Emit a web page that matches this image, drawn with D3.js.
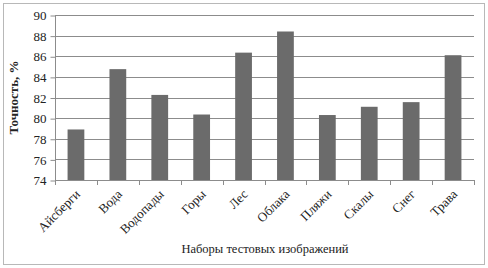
<!DOCTYPE html>
<html>
<head>
<meta charset="utf-8">
<script src="https://cdn.jsdelivr.net/npm/d3@7"></script>
<style>
  body { margin: 0; background: #fff; }
  text { font-family: "Liberation Serif", "DejaVu Serif", serif; fill: #222; }
</style>
</head>
<body>
<svg id="chart"></svg>
<script>
var width = 488, height = 268;

// data
var categories = ["Айсберги", "Вода", "Водопады", "Горы", "Лес", "Облака", "Пляжи", "Скалы", "Снег", "Трава"];
var accuracy = [78.9, 84.75, 82.25, 80.35, 86.35, 88.4, 80.3, 81.1, 81.55, 86.1];
var yTicks = [74, 76, 78, 80, 82, 84, 86, 88, 90];

var margin = { left: 55, right: 14, top: 15, bottom: 88 };

var svg =
  d3.select("#chart")
      .attr("width", width)
      .attr("height", height);

// outer frame
svg.append("rect")
    .attr("x", 3.5)
    .attr("y", 3.5)
    .attr("width", width - 7)
    .attr("height", height - 7)
    .attr("fill", "none")
    .attr("stroke", "#b8b8b8");

// scales
var xScale =
  d3.scaleBand()
    .domain(categories)
    .range([margin.left, width - margin.right])
    .paddingInner(0.6)
    .paddingOuter(0.3);

var yScale =
  d3.scaleLinear()
    .domain([74, 90])
    .range([height - margin.bottom, margin.top]);

// gridlines
svg.append("g")
  .selectAll("line")
  .data(yTicks.slice(1))
  .enter()
  .append("line")
    .attr("x1", margin.left)
    .attr("x2", width - margin.right)
    .attr("y1", d => Math.round(yScale(d)) + 0.5)
    .attr("y2", d => Math.round(yScale(d)) + 0.5)
    .attr("stroke", "#8c8c8c");

// bars
svg.append("g")
  .selectAll("rect")
  .data(categories)
  .enter()
  .append("rect")
    .attr("x", d => xScale(d))
    .attr("width", xScale.bandwidth())
    .attr("y", (d, i) => yScale(accuracy[i]))
    .attr("height", (d, i) => yScale(74) - yScale(accuracy[i]))
    .attr("fill", "#6b6b6b");

// y axis
var yAxis =
  svg.append("g")
      .attr("transform", `translate(${margin.left + 0.5}, 0.5)`)
      .call(d3.axisLeft(yScale).tickValues(yTicks).tickSize(5).tickPadding(4));

yAxis.select(".domain").attr("stroke", "#8c8c8c").attr("d", `M0,${yScale(74)}V${yScale(90)}`);
yAxis.selectAll(".tick line").attr("stroke", "#8c8c8c");
yAxis.selectAll(".tick text")
    .style("font-size", "13px")
    .style("font-family", "Liberation Serif, serif")
    .attr("fill", "#333");

// x axis
var bounds = d3.range(categories.length + 1).map(i => margin.left + i * (width - margin.left - margin.right) / categories.length);

var xAxis = svg.append("g");

xAxis.append("line")
    .attr("x1", margin.left)
    .attr("x2", width - margin.right)
    .attr("y1", Math.round(yScale(74)) + 0.5)
    .attr("y2", Math.round(yScale(74)) + 0.5)
    .attr("stroke", "#8c8c8c");

xAxis.selectAll(".xtick")
  .data(bounds)
  .enter()
  .append("line")
    .attr("x1", d => Math.round(d) + 0.5)
    .attr("x2", d => Math.round(d) + 0.5)
    .attr("y1", yScale(74))
    .attr("y2", yScale(74) + 5)
    .attr("stroke", "#8c8c8c");

xAxis.selectAll(".xlabel")
  .data(categories)
  .enter()
  .append("text")
    .text(d => d)
    .attr("text-anchor", "end")
    .style("font-size", "13px")
    .attr("transform", d => `translate(${xScale(d) + xScale.bandwidth() / 2 + 5}, ${yScale(74) + 15}) rotate(-45)`);

// axis titles
svg.append("text")
    .text("Точность, %")
    .attr("transform", `translate(18, ${(margin.top + yScale(74)) / 2}) rotate(-90)`)
    .attr("text-anchor", "middle")
    .style("font-size", "13px")
    .style("font-weight", "bold");

svg.append("text")
    .text("Наборы тестовых изображений")
    .attr("x", 265)
    .attr("y", 253)
    .attr("text-anchor", "middle")
    .style("font-size", "12.5px");
</script>
</body>
</html>
